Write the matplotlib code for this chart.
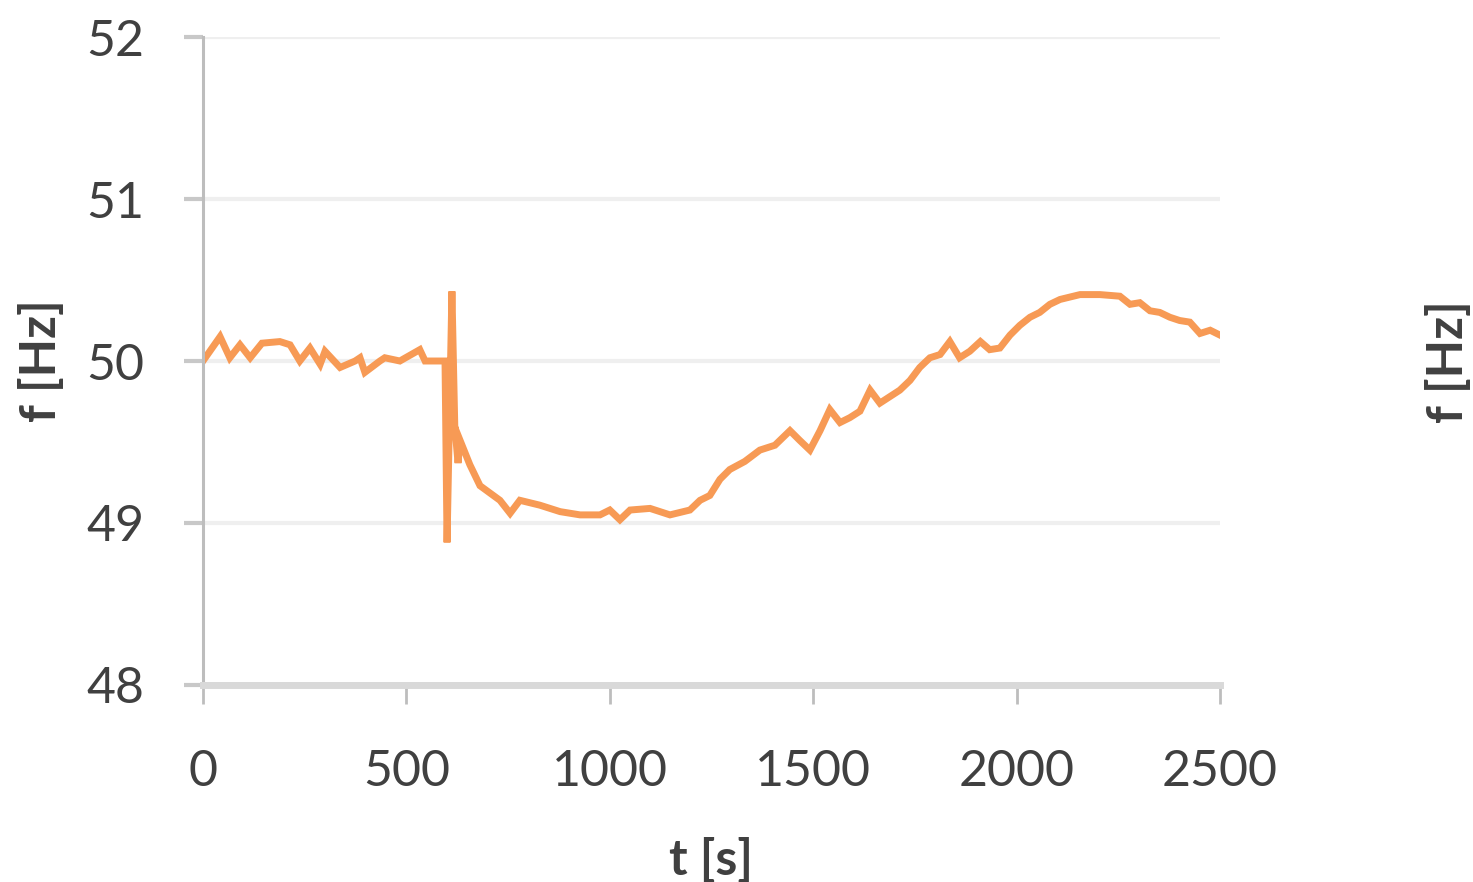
import numpy as np
from matplotlib import pyplot as plt

# data
t = [0, 42, 66, 91, 116, 145, 189, 214, 238, 263, 288, 300, 337, 374, 386, 398,
     435, 447, 484, 533, 546, 595, 600, 612, 619, 627, 632, 656, 681, 730, 755,
     779, 828, 878, 927, 976, 1000, 1025, 1050, 1099, 1148, 1197, 1222, 1246,
     1271, 1295, 1332, 1369, 1406, 1443, 1467, 1492, 1517, 1541, 1566, 1590,
     1615, 1640, 1664, 1713, 1738, 1762, 1787, 1812, 1836, 1860, 1885, 1911,
     1934, 1959, 1984, 2008, 2033, 2057, 2082, 2107, 2156, 2205, 2254, 2279,
     2303, 2328, 2352, 2377, 2401, 2426, 2451, 2476, 2500]
f = [50.00, 50.15, 50.02, 50.10, 50.02, 50.11, 50.12, 50.10, 50.00, 50.08,
     49.98, 50.06, 49.96, 50.00, 50.02, 49.93, 50.00, 50.02, 50.00, 50.07,
     50.00, 50.00, 48.88, 50.43, 49.60, 49.37, 49.51, 49.36, 49.23, 49.14,
     49.06, 49.14, 49.11, 49.07, 49.05, 49.05, 49.08, 49.02, 49.08, 49.09,
     49.05, 49.08, 49.14, 49.17, 49.27, 49.33, 49.38, 49.45, 49.48, 49.57,
     49.51, 49.45, 49.57, 49.70, 49.62, 49.65, 49.69, 49.82, 49.74, 49.82,
     49.88, 49.96, 50.02, 50.04, 50.12, 50.02, 50.06, 50.12, 50.07, 50.08,
     50.16, 50.22, 50.27, 50.30, 50.35, 50.38, 50.41, 50.41, 50.40, 50.35,
     50.36, 50.31, 50.30, 50.27, 50.25, 50.24, 50.17, 50.19, 50.16]
xticks = [0, 500, 1000, 1500, 2000, 2500]
yticks = [48, 49, 50, 51, 52]

plt.rcParams['font.family'] = ['Lato', 'DejaVu Sans']

fig = plt.figure(figsize=(14.73, 8.82), dpi=100)
ax = fig.add_axes([0.1378, 0.2234, 0.6904, 0.7346])

ax.plot(t, f, color='#F79A55', lw=5, solid_joinstyle='miter')

ax.set_xlim(0, 2500)
ax.set_ylim(48, 52)
ax.set_xticks(xticks)
ax.set_yticks(yticks)
ax.grid(axis='y', color='#EFEFEF', lw=3)
ax.set_axisbelow(True)

for s in ['top', 'right']:
    ax.spines[s].set_visible(False)
ax.spines['left'].set_color('#BDBDBD')
ax.spines['left'].set_linewidth(2.2)
ax.spines['bottom'].set_color('#D9D9D9')
ax.spines['bottom'].set_linewidth(5)

ax.tick_params(axis='x', length=14, width=2, color='#BDBDBD', pad=32,
               labelsize=36, labelcolor='#404040')
ax.tick_params(axis='y', length=14, width=3, color='#C8C8C8', pad=28,
               labelsize=36, labelcolor='#404040')

ax.set_xlabel('t [s]', fontsize=36, fontweight='bold', color='#404040', labelpad=30)
ax.set_ylabel('f [Hz]', fontsize=36, fontweight='bold', color='#404040', labelpad=16)

# label of the next chart, cut at the right edge
fig.text(1425 / 1473, 0.59, 'f [Hz]', rotation=90, fontsize=36,
         fontweight='bold', color='#404040', ha='left', va='center')

plt.savefig('out.png', dpi=100, facecolor='white')
